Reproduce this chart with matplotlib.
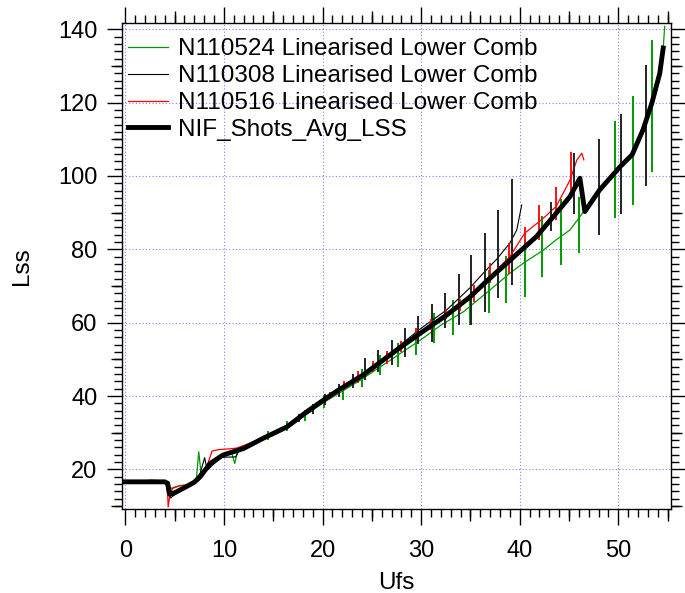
import numpy as np
import matplotlib
matplotlib.use('Agg')
import matplotlib.pyplot as plt
from matplotlib.ticker import MultipleLocator, FixedLocator

plt.rcParams['font.family'] = ['Liberation Sans', 'DejaVu Sans']

#############################################
## Data
#############################################
# N110524 (green)
ufs_524 = [0, 2.0, 2.5, 3.5, 4.0, 4.4, 4.8, 5.5, 6.5, 7.2, 7.45, 7.7, 8.5, 9.5, 10.8, 11.1, 11.4,
           12.5, 14.2, 14.8, 16.4, 18.4, 20.1, 22.0, 24.0, 27.0, 30.0, 32.0, 34.3, 36.98, 39.0,
           40.35, 42.4, 43.7, 45.1, 46.35, 48.1, 50.2, 51.4, 52.5, 53.4, 54.2, 54.55, 54.7]
lss_524 = [16.6, 16.6, 17.1, 16.9, 16.6, 14.5, 15.0, 15.6, 15.8, 17.0, 24.8, 18.5, 20.8, 23.5, 24.5, 21.6, 25.2,
           26.4, 29.2, 29.0, 31.2, 35.0, 38.2, 41.3, 44.6, 50.0, 55.4, 59.3, 63.0, 68.9, 73.5,
           76.2, 79.8, 82.6, 85.3, 89.8, 96.2, 102.6, 105.8, 112.6, 119.9, 128.0, 134.9, 140.8]
bar_x_524 = [14.5, 16.35, 18.2, 20.2, 22.1, 24.0, 25.8, 27.7, 29.5, 31.3, 33.2, 34.95, 36.9, 38.6,
             40.5, 42.3, 44.2, 46.0, 49.7, 51.5, 53.4]
bar_y_524 = [29.3, 31.8, 34.6, 38.5, 40.7, 45.0, 48.4, 51.2, 54.4, 58.5, 61.4, 63.5, 68.5, 71.8,
             74.8, 80.8, 84.7, 86.6, 101.7, 106.9, 119.0]
bar_err_524 = [1.2, 1.3, 1.5, 1.8, 1.8, 2.5, 2.7, 3.2, 3.2, 4.1, 4.8, 4.1, 5.8, 6.5,
               7.7, 8.3, 9.0, 7.7, 13.2, 14.8, 18.0]

# N110308 (thin black)
ufs_308 = [0, 4.1, 4.4, 4.6, 5.2, 6.0, 6.8, 7.6, 8.05, 8.3, 9.0, 9.8, 11.2, 11.6, 12.5, 14.0,
           16.4, 18.4, 20.1, 22.0, 24.0, 27.0, 29.9, 32.6, 34.95, 36.3, 37.66, 39.0, 39.7, 40.2]
lss_308 = [16.6, 16.6, 13.5, 12.2, 13.5, 15.0, 16.3, 19.0, 23.2, 19.8, 21.5, 23.3, 23.4, 25.4, 26.6, 28.6,
           31.8, 35.9, 39.1, 42.1, 45.8, 52.0, 58.3, 63.5, 69.5, 73.5, 77.3, 81.7, 85.3, 92.1]
bar_x_308 = [17.6, 19.0, 20.3, 21.7, 23.05, 24.3, 25.65, 27.0, 28.4, 29.7, 31.1, 32.4, 33.8,
             35.1, 36.5, 37.8, 39.2]
bar_y_308 = [34.0, 36.5, 39.0, 41.5, 44.1, 47.3, 49.5, 51.9, 54.6, 58.0, 60.0, 63.3, 66.4,
             68.9, 73.7, 78.7, 84.7]
bar_err_308 = [1.2, 1.3, 1.5, 1.7, 2.0, 3.0, 3.0, 3.5, 3.9, 3.9, 5.2, 4.8, 7.0,
               9.6, 10.7, 12.0, 14.4]

# N110516 (red)
ufs_516 = [0, 4.1, 4.3, 4.35, 4.5, 4.8, 5.5, 6.5, 7.5, 8.3, 8.8, 9.5, 10.6, 11.3, 12.5, 14.0,
           16.4, 18.4, 20.1, 22.0, 24.0, 27.0, 30.0, 32.5, 35.0, 36.98, 39.0, 40.5, 42.4, 43.7,
           45.1, 45.8, 46.3, 46.5]
lss_516 = [16.6, 16.6, 13.0, 9.8, 12.5, 14.8, 15.5, 15.8, 17.2, 21.0, 25.0, 25.4, 25.6, 25.8, 27.0, 28.7,
           31.9, 36.0, 39.1, 42.3, 45.8, 51.5, 57.3, 62.2, 67.6, 72.6, 78.0, 84.4, 88.5, 91.7,
           98.9, 104.4, 106.2, 104.4]
bar_x_516 = [20.8, 22.2, 23.6, 25.1, 26.5, 28.0, 29.5, 31.0, 32.5, 33.9, 35.4, 37.0, 38.9, 40.5,
             42.0, 43.7, 45.2]
bar_y_516 = [40.1, 42.8, 45.1, 48.0, 50.6, 53.5, 56.9, 59.6, 62.3, 64.8, 68.0, 73.5, 77.5, 83.0,
             87.3, 92.5, 100.5]
bar_err_516 = [1.0, 1.2, 1.6, 1.5, 1.8, 1.6, 1.6, 1.5, 1.4, 1.6, 2.3, 2.7, 4.1, 3.0,
               4.8, 4.5, 6.1]

# NIF_Shots_Avg_LSS (thick black)
ufs_avg = [0, 4.0, 4.3, 4.5, 5.0, 6.2, 7.0, 7.6, 8.6, 9.9, 12.0, 14.0, 16.4, 18.4, 20.1, 21.6,
           24.1, 27.5, 29.9, 32.6, 34.95, 36.6, 38.3, 40.0, 41.7, 43.4, 45.1, 46.1, 46.6, 48.1,
           50.2, 51.4, 52.5, 53.4, 54.2, 54.55]
lss_avg = [16.6, 16.6, 16.2, 13.2, 13.6, 15.3, 16.5, 18.0, 21.6, 23.9, 25.7, 28.5, 31.6, 35.7, 38.9, 41.6,
           45.7, 52.5, 57.1, 62.1, 67.0, 71.2, 75.3, 79.4, 83.5, 88.9, 94.4, 99.4, 90.3, 96.2,
           102.6, 105.8, 112.6, 119.9, 128.0, 134.9]
bar_x_avg = [43.2, 45.5, 48.0, 50.3, 52.8]
bar_y_avg = [89.0, 98.0, 97.0, 103.2, 113.9]
bar_err_avg = [3.9, 8.3, 13.0, 13.6, 16.5]

green = '#009a00'

#############################################
## Plot
#############################################
fig = plt.figure(figsize=(6.85, 5.93), dpi=100)
ax = fig.add_axes([0.178, 0.1417, 0.801, 0.82])

ax.plot(ufs_524, lss_524, color=green, lw=0.9, label='N110524 Linearised Lower Comb')
ax.errorbar(bar_x_524, bar_y_524, yerr=bar_err_524, fmt='none', ecolor=green, elinewidth=1.4, capsize=0)
ax.plot(ufs_308, lss_308, color='black', lw=0.8, label='N110308 Linearised Lower Comb')
ax.errorbar(bar_x_308, bar_y_308, yerr=bar_err_308, fmt='none', ecolor='#222222', elinewidth=1.4, capsize=0)
ax.plot(ufs_516, lss_516, color='red', lw=0.9, label='N110516 Linearised Lower Comb')
ax.errorbar(bar_x_516, bar_y_516, yerr=bar_err_516, fmt='none', ecolor='red', elinewidth=1.3, capsize=0)
ax.plot(ufs_avg, lss_avg, color='black', lw=3.5, label='NIF_Shots_Avg_LSS',
        solid_joinstyle='round', zorder=5)
ax.errorbar(bar_x_avg, bar_y_avg, yerr=bar_err_avg, fmt='none', ecolor='#222222', elinewidth=1.4, capsize=0)

ax.set_xlim(-0.34, 55.3)
ax.set_ylim(9.2, 141.8)

# Major / minor ticks on all four sides, pointing out
ax.xaxis.set_major_locator(MultipleLocator(10))
ax.xaxis.set_minor_locator(MultipleLocator(1))
ax.yaxis.set_major_locator(FixedLocator([20, 40, 60, 80, 100, 120, 140]))
ax.yaxis.set_minor_locator(MultipleLocator(2))
ax.tick_params(which='major', direction='out', length=11.5, width=1.0, labelsize=17,
               top=True, right=True, pad=11)
ax.tick_params(which='minor', direction='out', length=5.6, width=1.0, top=True, right=True)
ax.tick_params(axis='y', which='major', length=10.5, pad=7)

# medium-length ticks at the half-way marks
for side in ['bottom', 'top']:
    sec = ax.secondary_xaxis(side)
    sec.set_xticks([5, 15, 25, 35, 45, 55])
    sec.tick_params(direction='out', length=8.4, width=1.0, labelbottom=False, labeltop=False)
    for s in sec.spines.values():
        s.set_visible(False)
for side in ['left', 'right']:
    sec = ax.secondary_yaxis(side)
    sec.set_yticks([10, 30, 50, 70, 90, 110, 130])
    sec.tick_params(direction='out', length=7.7, width=1.0, labelleft=False, labelright=False)
    for s in sec.spines.values():
        s.set_visible(False)

for s in ax.spines.values():
    s.set_linewidth(1.0)

ax.grid(True, which='major', color='#8080ff', linestyle=(0, (1, 2)), lw=0.8)
ax.set_axisbelow(True)

ax.set_xlabel('Ufs', fontsize=17.5, labelpad=7)
ax.set_ylabel('Lss', fontsize=17.5, labelpad=18)

ax.legend(loc='upper left', bbox_to_anchor=(0.011, 0.968), frameon=False, fontsize=17.5,
          borderpad=0, borderaxespad=0, handlelength=1.65, handletextpad=0.41, labelspacing=0.2)

fig.savefig('out.png', dpi=100)
